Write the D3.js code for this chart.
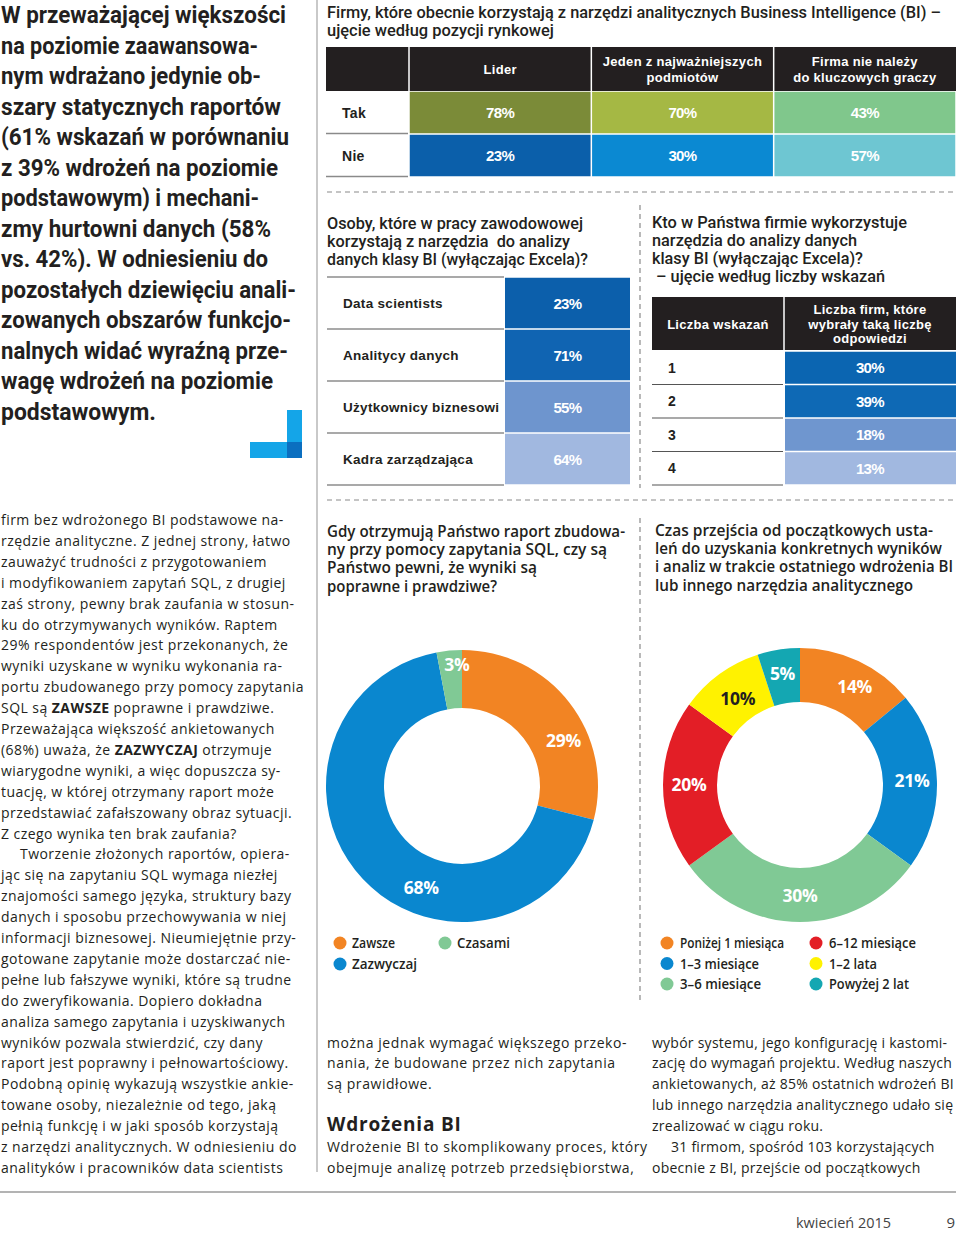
<!DOCTYPE html>
<html><head><meta charset="utf-8">
<script src="https://cdn.jsdelivr.net/npm/d3@7"></script>
<style>
html,body{margin:0;padding:0;background:#fff;}
svg{display:block;}
</style></head><body>
<svg id="page" width="960" height="1233"></svg>
<script>
// ---------------- DATA ----------------
const marketPositions = ["Lider", "Jeden z najważniejszych|podmiotów", "Firma nie należy|do kluczowych graczy"];
const marketAnswers = ["Tak", "Nie"];
const marketTak = [78, 70, 43];
const marketNie = [23, 30, 57];

const roles = ["Data scientists", "Analitycy danych", "Użytkownicy biznesowi", "Kadra zarządzająca"];
const roleShares = [23, 71, 55, 64];

const indicationCounts = ["1", "2", "3", "4"];
const indicationShares = [30, 39, 18, 13];
const indicationHeaders = ["Liczba wskazań", "Liczba firm, które|wybrały taką liczbę|odpowiedzi"];

const trustCategories = ["Zawsze", "Zazwyczaj", "Czasami"];
const trustShares = [29, 68, 3];

const timeCategories = ["Poniżej 1 miesiąca", "1–3 miesiące", "3–6 miesiące", "6–12 miesiące", "1–2 lata", "Powyżej 2 lat"];
const timeShares = [14, 21, 30, 20, 10, 5];

// ---------------- TEXTS ----------------
const headlineLines = ["W przeważającej większości","na poziomie zaawansowa-","nym wdrażano jedynie ob-","szary statycznych raportów","(61% wskazań w porównaniu","z 39% wdrożeń na poziomie","podstawowym) i mechani-","zmy hurtowni danych (58%","vs. 42%). W odniesieniu do","pozostałych dziewięciu anali-","zowanych obszarów funkcjo-","nalnych widać wyraźną prze-","wagę wdrożeń na poziomie","podstawowym."];
const marketTitle = ["Firmy, które obecnie korzystają z narzędzi analitycznych Business Intelligence (BI) –","ujęcie według pozycji rynkowej"];
const roleTitle = ["Osoby, które w pracy zawodowowej","korzystają z narzędzia\u00a0 do analizy","danych klasy BI (wyłączając Excela)?"];
const countTitle = ["Kto w Państwa firmie wykorzystuje","narzędzia do analizy danych","klasy BI (wyłączając Excela)?","\u00a0– ujęcie według liczby wskazań"];
const trustTitle = ["Gdy otrzymują Państwo raport zbudowa-","ny przy pomocy zapytania SQL, czy są","Państwo pewni, że wyniki są","poprawne i prawdziwe?"];
const timeTitle = ["Czas przejścia od początkowych usta-","leń do uzyskania konkretnych wyników","i analiz w trakcie ostatniego wdrożenia BI","lub innego narzędzia analitycznego"];

const bodyLeft = [
"firm bez wdrożonego BI podstawowe na-",
"rzędzie analityczne. Z jednej strony, łatwo",
"zauważyć trudności z przygotowaniem",
"i modyfikowaniem zapytań SQL, z drugiej",
"zaś strony, pewny brak zaufania w stosun-",
"ku do otrzymywanych wyników. Raptem",
"29% respondentów jest przekonanych, że",
"wyniki uzyskane w wyniku wykonania ra-",
"portu zbudowanego przy pomocy zapytania",
"SQL są **ZAWSZE** poprawne i prawdziwe.",
"Przeważająca większość ankietowanych",
"(68%) uważa, że **ZAZWYCZAJ** otrzymuje",
"wiarygodne wyniki, a więc dopuszcza sy-",
"tuację, w której otrzymany raport może",
"przedstawiać zafałszowany obraz sytuacji.",
"Z czego wynika ten brak zaufania?",
">Tworzenie złożonych raportów, opiera-",
"jąc się na zapytaniu SQL wymaga niezłej",
"znajomości samego języka, struktury bazy",
"danych i sposobu przechowywania w niej",
"informacji biznesowej. Nieumiejętnie przy-",
"gotowane zapytanie może dostarczać nie-",
"pełne lub fałszywe wyniki, które są trudne",
"do zweryfikowania. Dopiero dokładna",
"analiza samego zapytania i uzyskiwanych",
"wyników pozwala stwierdzić, czy dany",
"raport jest poprawny i pełnowartościowy.",
"Podobną opinię wykazują wszystkie ankie-",
"towane osoby, niezależnie od tego, jaką",
"pełnią funkcję i w jaki sposób korzystają",
"z narzędzi analitycznych. W odniesieniu do",
"analityków i pracowników data scientists"];
const bodyMid = [
"można jednak wymagać większego przeko-",
"nania, że budowane przez nich zapytania",
"są prawidłowe.",
"",
"#Wdrożenia BI",
"Wdrożenie BI to skomplikowany proces, który",
"obejmuje analizę potrzeb przedsiębiorstwa,"];
const bodyRight = [
"wybór systemu, jego konfigurację i kastomi-",
"zację do wymagań projektu. Według naszych",
"ankietowanych, aż 85% ostatnich wdrożeń BI",
"lub innego narzędzia analitycznego udało się",
"zrealizować w ciągu roku.",
">31 firmom, spośród 103 korzystających",
"obecnie z BI, przejście od początkowych"];

// ---------------- STYLE ----------------
const INK = "#231f20";
const F_ARIAL = "'Liberation Sans', Arial, sans-serif";
const F_COND = "Roboto, 'Noto Sans', sans-serif";
const F_HUM = "'Open Sans', 'Noto Sans', sans-serif";

const svg = d3.select("#page");

function T(g, str, o) {
  const t = g.append("text")
    .attr("x", o.x).attr("y", o.y)
    .attr("text-anchor", o.anchor || "start")
    .attr("fill", o.fill || INK)
    .style("font-family", o.family || F_HUM)
    .style("font-size", o.size + "px")
    .style("font-weight", o.weight || 400);
  if (o.ls != null) t.style("letter-spacing", o.ls + "px");
  const parts = str.split("**");
  if (parts.length > 1) {
    parts.forEach((p, i) => { if (p) t.append("tspan").style("font-weight", i % 2 ? 700 : null).text(p); });
  } else t.text(str);
  if (o.w) t.attr("textLength", o.w).attr("lengthAdjust", "spacingAndGlyphs");
  return t;
}

// ---------------- RULES ----------------
svg.append("line").attr("x1", 317).attr("x2", 317).attr("y1", 0).attr("y2", 1172)
  .attr("stroke", "#c9c9c9").attr("stroke-width", 2);
svg.append("line").attr("x1", 0).attr("x2", 956).attr("y1", 1192).attr("y2", 1192)
  .attr("stroke", "#9a9a9a").attr("stroke-width", 1.3);
const dash = (x1, y1, x2, y2) => svg.append("line").attr("x1", x1).attr("y1", y1).attr("x2", x2).attr("y2", y2)
  .attr("stroke", "#8a8a8a").attr("stroke-width", 1.2).attr("stroke-dasharray", "5,4");
dash(327, 192, 956, 192);
dash(327, 500, 956, 500);
dash(640, 205, 640, 488);
dash(640, 518, 640, 1003);

// ---------------- HEADLINE ----------------
const headlineW = [285,257,260,280,288,277,258,270,267,295,290,287,272,155];
const hl = svg.append("g");
headlineLines.forEach((l, i) => T(hl, l, {x: 1, y: 23 + 30.5 * i, size: 24, weight: 700, family: F_COND, w: headlineW[i]}));
// corner decoration
hl.append("rect").attr("x", 287).attr("y", 410).attr("width", 15).attr("height", 48).attr("fill", "#14a5e8");
hl.append("rect").attr("x", 250).attr("y", 442).attr("width", 52).attr("height", 16).attr("fill", "#14a5e8");
hl.append("rect").attr("x", 287).attr("y", 442).attr("width", 15).attr("height", 16).attr("fill", "#0b6fc0");

// ---------------- TOP TABLE ----------------
const gTop = svg.append("g");
T(gTop, marketTitle[0], {x: 327, y: 18, size: 16.5, weight: 500, family: F_COND, w: 614});
T(gTop, marketTitle[1], {x: 327, y: 36, size: 16.5, weight: 500, family: F_COND, w: 227});
const topX = d3.scaleBand().domain(marketPositions).range([409, 956]);
const topY = d3.scaleBand().domain(marketAnswers).range([91, 177]);
gTop.append("rect").attr("x", 326).attr("y", 47).attr("width", 630).attr("height", 44).attr("fill", INK);
marketPositions.forEach(p => {
  gTop.append("line").attr("x1", topX(p)).attr("x2", topX(p)).attr("y1", 47).attr("y2", 91)
    .attr("stroke", "#fff").attr("stroke-width", 1.5);
  const lines = p.split("|");
  const cx = topX(p) + topX.bandwidth() / 2;
  lines.forEach((l, j) => T(gTop, l, {x: cx, y: lines.length === 1 ? 74 : 66 + 16 * j, size: 13, weight: 700,
    family: F_ARIAL, fill: "#fff", anchor: "middle", ls: 0.3}));
});
const topColors = {Tak: ["#7b8b38", "#a5b844", "#80c78c"], Nie: ["#0b5faa", "#0b89d2", "#6ec6d2"]};
const topVals = {Tak: marketTak, Nie: marketNie};
marketAnswers.forEach(a => {
  const y0 = topY(a), bh = topY.bandwidth();
  T(gTop, a, {x: 342, y: y0 + bh / 2 + 5.5, size: 14, weight: 700, family: F_ARIAL, ls: 0.3});
  gTop.append("line").attr("x1", 326).attr("x2", 408).attr("y1", y0 + bh - 0.5).attr("y2", y0 + bh - 0.5)
    .attr("stroke", "#8a8a8a").attr("stroke-width", 1.5);
  marketPositions.forEach((p, i) => {
    gTop.append("rect").attr("x", topX(p) + 0.75).attr("y", y0 + 0.75)
      .attr("width", topX.bandwidth() - 1.5).attr("height", bh - 1.5).attr("fill", topColors[a][i]);
    T(gTop, topVals[a][i] + "%", {x: topX(p) + topX.bandwidth() / 2, y: y0 + bh / 2 + 5.5, size: 15, weight: 700,
      family: F_ARIAL, fill: "#fff", anchor: "middle", ls: -0.6});
  });
});

// ---------------- ROLE TABLE ----------------
const gRole = svg.append("g");
const roleTitleW = [256, 243, 261];
roleTitle.forEach((l, i) => T(gRole, l, {x: 327, y: 229 + 18 * i, size: 16.5, weight: 500, family: F_COND, w: roleTitleW[i]}));
const roleY = d3.scaleBand().domain(roles).range([277, 485]);
const roleColors = ["#0c5fab", "#1064b2", "#6e95ce", "#a1b8e0"];
gRole.append("line").attr("x1", 327).attr("x2", 504).attr("y1", 277).attr("y2", 277).attr("stroke", "#555").attr("stroke-width", 1.2);
roles.forEach((r, i) => {
  const y0 = roleY(r), bh = roleY.bandwidth();
  gRole.append("rect").attr("x", 505).attr("y", y0 + 0.75).attr("width", 125).attr("height", bh - 1.5).attr("fill", roleColors[i]);
  gRole.append("line").attr("x1", 327).attr("x2", 504).attr("y1", y0 + bh).attr("y2", y0 + bh).attr("stroke", "#555").attr("stroke-width", 1.2);
  T(gRole, r, {x: 343, y: y0 + bh / 2 + 5, size: 13.5, weight: 700, family: F_ARIAL, ls: 0.3});
  T(gRole, roleShares[i] + "%", {x: 567.5, y: y0 + bh / 2 + 5.5, size: 15, weight: 700, family: F_ARIAL, fill: "#fff", anchor: "middle", ls: -0.6});
});

// ---------------- COUNT TABLE ----------------
const gCnt = svg.append("g");
const countTitleW = [255, 205, 211, 233];
countTitle.forEach((l, i) => T(gCnt, l, {x: 652, y: 228 + 18 * i, size: 16.5, weight: 500, family: F_COND, w: countTitleW[i]}));
gCnt.append("rect").attr("x", 652).attr("y", 297).attr("width", 304).attr("height", 53).attr("fill", INK);
gCnt.append("line").attr("x1", 784).attr("x2", 784).attr("y1", 297).attr("y2", 350).attr("stroke", "#fff").attr("stroke-width", 1.5);
T(gCnt, indicationHeaders[0], {x: 718, y: 329, size: 13, weight: 700, family: F_ARIAL, fill: "#fff", anchor: "middle", ls: 0.3});
indicationHeaders[1].split("|").forEach((l, j) => T(gCnt, l, {x: 870, y: 314 + 14.5 * j, size: 13, weight: 700, family: F_ARIAL, fill: "#fff", anchor: "middle", ls: 0.3}));
const cntY = d3.scaleBand().domain(indicationCounts).range([351, 485]);
const cntColors = ["#0b65b1", "#0e69b5", "#6f96cf", "#a1b8e0"];
indicationCounts.forEach((c, i) => {
  const y0 = cntY(c), bh = cntY.bandwidth();
  gCnt.append("rect").attr("x", 785).attr("y", y0 + 0.75).attr("width", 171).attr("height", bh - 1.5).attr("fill", cntColors[i]);
  gCnt.append("line").attr("x1", 652).attr("x2", 783).attr("y1", y0 + bh).attr("y2", y0 + bh).attr("stroke", "#555").attr("stroke-width", 1.2);
  T(gCnt, c, {x: 668, y: y0 + bh / 2 + 5, size: 14, weight: 700, family: F_ARIAL});
  T(gCnt, indicationShares[i] + "%", {x: 870, y: y0 + bh / 2 + 5.5, size: 15, weight: 700, family: F_ARIAL, fill: "#fff", anchor: "middle", ls: -0.6});
});

// ---------------- DONUTS ----------------
function donut(o) {
  const g = svg.append("g").attr("transform", `translate(${o.cx},${o.cy})`);
  const pie = d3.pie().sort(null).value(d => d.v);
  const arcs = pie(o.cats.map((c, i) => ({c, v: o.vals[i]})));
  const arc = d3.arc().innerRadius(o.r).outerRadius(o.R);
  g.selectAll("path").data(arcs).join("path").attr("d", arc).attr("fill", (d, i) => o.colors[i]);
  arcs.forEach((d, i) => {
    const a = (d.startAngle + d.endAngle) / 2 + (o.da[i] || 0) * Math.PI / 180;
    const lr = (o.R + o.r) / 2 + (o.dr[i] || 0);
    T(g, o.vals[i] + "%", {x: lr * Math.sin(a), y: -lr * Math.cos(a) + 6, size: 17.5, weight: 700, family: F_HUM,
      fill: o.labelFill[i], anchor: "middle", ls: -0.3});
  });
}
const gTrust = svg.append("g");
const trustTitleW = [298, 280, 210, 170];
trustTitle.forEach((l, i) => T(gTrust, l, {x: 327, y: 537 + 18.2 * i, size: 16, weight: 600, family: F_HUM, w: trustTitleW[i]}));
const trustColors = ["#f28423", "#0a87cf", "#80c995"];
donut({cx: 462, cy: 786, R: 136, r: 78, cats: trustCategories, vals: trustShares, colors: trustColors,
  labelFill: ["#fff", "#fff", "#fff"], da: [14, -25, 3], dr: [4, 3, 14]});
const trustLeg = [[340, 943, 352], [340, 964, 352], [445, 943, 457]];
const trustLegW = [43, 65, 53];
trustCategories.forEach((c, i) => {
  const [cx, cy, tx] = trustLeg[i];
  gTrust.append("circle").attr("cx", cx).attr("cy", cy).attr("r", 6.5).attr("fill", trustColors[i]);
  T(gTrust, c, {x: tx, y: cy + 5, size: 14, weight: 600, family: F_HUM, w: trustLegW[i]});
});

const gTime = svg.append("g");
const timeTitleW = [278, 287, 298, 258];
timeTitle.forEach((l, i) => T(gTime, l, {x: 655, y: 536 + 18.2 * i, size: 16, weight: 600, family: F_HUM, w: timeTitleW[i]}));
const timeColors = ["#f28423", "#0a87cf", "#80c995", "#e31e26", "#fff200", "#14a7b2"];
donut({cx: 800, cy: 785, R: 137, r: 83, cats: timeCategories, vals: timeShares, colors: timeColors,
  labelFill: ["#fff", "#fff", "#fff", "#fff", INK, "#fff"], da: [4, 0, 0, 0, 0, 0], dr: [2, 2, 1, 1, -4, 2]});
const timeLegW = [104, 79, 81, 87, 48, 80];
timeCategories.forEach((c, i) => {
  const col = Math.floor(i / 3), row = i % 3;
  const cx = col ? 816 : 667, cy = 943 + 20.5 * row;
  gTime.append("circle").attr("cx", cx).attr("cy", cy).attr("r", 6.5).attr("fill", timeColors[i]);
  T(gTime, c, {x: cx + 13, y: cy + 5, size: 14, weight: 600, family: F_HUM, w: timeLegW[i]});
});

// ---------------- BODY TEXT ----------------
function bodyColumn(lines, x, k0, refIdx, refW, family, size) {
  const g = svg.append("g");
  const probe = T(g, lines[refIdx].replace(/^>/, ""), {x: 0, y: -100, size, family});
  const w = probe.node().getComputedTextLength();
  const n = lines[refIdx].replace(/^>/, "").length;
  const ls = (refW - w) / n;
  probe.remove();
  lines.forEach((l, i) => {
    if (!l) return;
    const y = 525 + 20.9 * (k0 + i);
    if (l[0] === "#") {
      T(g, l.slice(1), {x, y, size: 19, weight: 700, family: F_HUM, ls: 0.8});
    } else if (l[0] === ">") {
      T(g, l.slice(1), {x: x + 19, y, size, family, ls});
    } else T(g, l, {x, y, size, family, ls});
  });
}
bodyColumn(bodyLeft, 1, 0, 8, 303, F_HUM, 14);
bodyColumn(bodyMid, 327, 25, 0, 300, F_HUM, 14);
bodyColumn(bodyRight, 652, 25, 2, 302, F_HUM, 14);

// ---------------- FOOTER ----------------
T(svg, "kwiecień 2015", {x: 796, y: 1228, size: 15, weight: 400, family: F_HUM, fill: "#444", w: 95});
T(svg, "9", {x: 955, y: 1228, size: 15, weight: 400, family: F_HUM, fill: "#444", anchor: "end"});
</script>
</body></html>
